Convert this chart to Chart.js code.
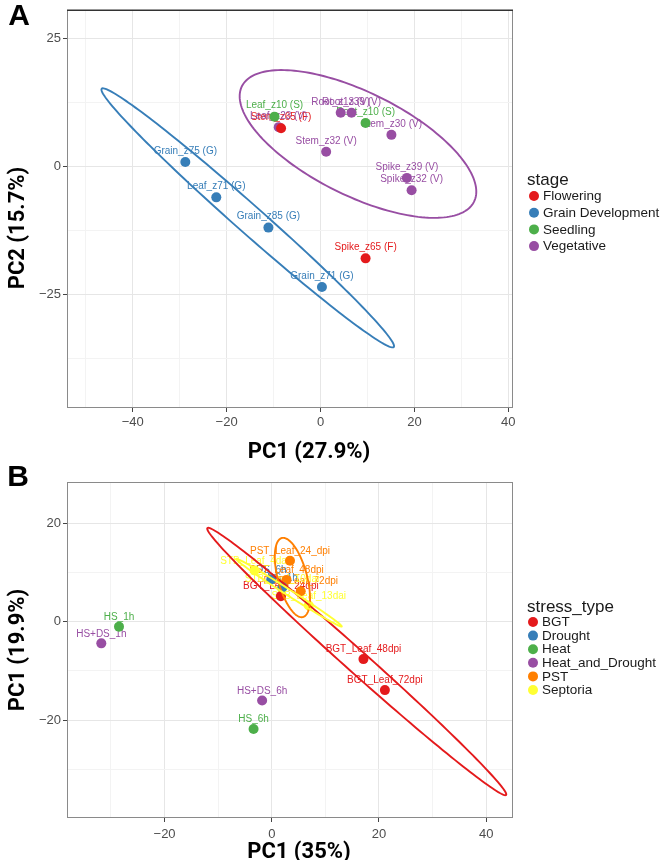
<!DOCTYPE html>
<html><head><meta charset="utf-8">
<script src="https://cdn.jsdelivr.net/npm/chart.js@4.4.1/dist/chart.umd.min.js"></script>
<style>
html,body{margin:0;padding:0;background:#fff;width:663px;height:860px;overflow:hidden;position:relative}
canvas{position:absolute;left:0}
#cA{top:0}
#cB{top:460px}
</style></head><body>
<canvas id="cA" width="663" height="470"></canvas>
<canvas id="cB" width="663" height="400"></canvas>
<script>
// ---------- Panel A ----------
const stagesA = ['Flowering','Grain Development','Seedling','Vegetative'];
const stageColorsA = ['#E41A1C','#377EB8','#4DAF4A','#984EA3'];
const samplesA = ['Grain_z75 (G)','Leaf_z71 (G)','Grain_z85 (G)','Grain_z71 (G)','Leaf_z10 (S)','Root_z10 (S)','Leaf_z23 (V)','Stem_z65 (F)','Spike_z65 (F)','Root_z13 (V)','Root_z39 (V)','Stem_z30 (V)','Stem_z32 (V)','Spike_z39 (V)','Spike_z32 (V)'];
const pc1A = [-28.8,-22.2,-11.1,0.3,-9.8,9.6,-8.9,-8.4,9.6,4.3,6.6,15.1,1.2,18.4,19.4];
const pc2A = [0.9,-6.0,-11.9,-23.5,9.75,8.5,7.7,7.5,-17.9,10.5,10.5,6.2,2.9,-2.2,-4.6];
const stageOfA = [1,1,1,1,2,2,3,0,0,3,3,3,3,3,3];
const xTicksA = [-50,-40,-30,-20,-10,0,10,20,30,40];
const xLabelsA = [-40,-20,0,20,40];
const yTicksA = [-37.5,-25,-12.5,0,12.5,25];
const yLabelsA = [-25,0,25];
// ellipses: [group, centerX, centerY, majorX, majorY, minorX, minorY]
const ellipsesA = [
  [1,-15.5,-10.0,31.1,-25.2,1.98,2.0],
  [3,7.98,4.42,24.7,-11.3,-5.0,-8.96]
];

// ---------- Panel B ----------
const stressTypes = ['BGT','Drought','Heat','Heat_and_Drought','PST','Septoria'];
const stressColors = ['#E41A1C','#377EB8','#4DAF4A','#984EA3','#FF7F00','#FFFF33'];
const samplesB = ['BGT_Leaf_24dpi','BGT_Leaf_48dpi','BGT_Leaf_72dpi','DS_1h','DS_6h','HS_1h','HS_6h','HS+DS_1h','HS+DS_6h','PST_Leaf_24_dpi','PST_Leaf_48dpi','PST_Leaf_72dpi','STB_Leaf_4dai','STB_Leaf_10dai','STB_Leaf_13dai'];
const pc1B = [1.7,17.1,21.1,2.0,-0.1,-28.5,-3.4,-31.8,-1.8,3.4,2.75,5.4,-3.2,1.9,6.9];
const pc2B = [5.2,-7.6,-13.9,7.0,8.6,-1.0,-21.8,-4.4,-16.0,12.4,8.5,6.2,10.4,6.8,3.3];
const stressOfB = [0,0,0,1,1,2,2,3,3,4,4,4,5,5,5];
const xTicksB = [-30,-20,-10,0,10,20,30,40];
const xLabelsB = [-20,0,20,40];
const yTicksB = [-30,-20,-10,0,10,20];
const yLabelsB = [-20,0,20];
const ellipsesB = [
  [0,15.85,-8.09,27.86,-27.13,1.39,1.67],
  [4,3.85,8.98,1.97,-8.03,-2.63,-0.75],
  [5,3.2,5.9,9.85,-6.87,0.3,0.51]
];

const FONT = "'Liberation Sans', Arial, sans-serif";
const fmt = v => v < 0 ? '\u2212' + Math.abs(v) : String(v);

function buildChart(id, cfg) {
  const datasets = cfg.groups.map((g, gi) => ({
    label: g,
    data: cfg.xs.map((x, i) => ({x: x, y: cfg.ys[i], lab: cfg.labels[i], g: cfg.groupOf[i]})).filter(d => d.g === gi),
    backgroundColor: cfg.colors[gi],
    borderColor: cfg.colors[gi],
    borderWidth: 0,
    pointRadius: 5,
    pointHoverRadius: 5
  }));
  const overlay = {
    id: 'overlay_' + id,
    beforeDatasetsDraw(chart) {
      const c = chart.ctx, a = chart.chartArea;
      c.save();
      c.beginPath(); c.rect(a.left, a.top, a.right - a.left, a.bottom - a.top); c.clip();
      c.font = '10px ' + FONT;
      c.textAlign = 'center'; c.textBaseline = 'middle';
      chart.data.datasets.forEach((ds, di) => {
        const meta = chart.getDatasetMeta(di);
        meta.data.forEach((el, j) => {
          c.fillStyle = cfg.colors[di];
          c.fillText(ds.data[j].lab, el.x, el.y - cfg.labelOff);
        });
      });
      c.restore();
    },
    afterDatasetsDraw(chart) {
      const c = chart.ctx, a = chart.chartArea;
      const xs = chart.scales.x, ys = chart.scales.y;
      c.save();
      c.beginPath(); c.rect(a.left, a.top, a.right - a.left, a.bottom - a.top); c.clip();
      cfg.ellipses.forEach(e => {
        c.beginPath();
        for (let k = 0; k <= 180; k++) {
          const t = k / 180 * Math.PI * 2;
          const dx = e[1] + Math.cos(t) * e[3] + Math.sin(t) * e[5];
          const dy = e[2] + Math.cos(t) * e[4] + Math.sin(t) * e[6];
          const px = xs.getPixelForValue(dx), py = ys.getPixelForValue(dy);
          if (k === 0) c.moveTo(px, py); else c.lineTo(px, py);
        }
        c.closePath();
        c.strokeStyle = cfg.colors[e[0]];
        c.lineWidth = 1.9;
        c.stroke();
      });
      c.restore();
    },
    afterDraw(chart) {
      const c = chart.ctx, a = chart.chartArea;
      c.save();
      c.strokeStyle = '#8a8a8a'; c.lineWidth = 1;
      c.strokeRect(Math.round(a.left) + 0.5, Math.round(a.top) + 0.5, Math.round(a.right - a.left) - 1, Math.round(a.bottom - a.top) - 1);
      if (cfg.topDark) {
        c.strokeStyle = '#333'; c.lineWidth = 1.5;
        c.beginPath(); c.moveTo(a.left, a.top + 0.5); c.lineTo(a.right, a.top + 0.5); c.stroke();
      }
      c.fillStyle = '#000';
      c.font = "bold 30px 'Liberation Sans', Arial, sans-serif";
      c.textAlign = 'center'; c.textBaseline = 'middle';
      c.fillText(cfg.letter[0], cfg.letter[1], cfg.letter[2]);
      c.font = "bold 22px Roboto, 'Liberation Sans', sans-serif";
      c.fillText(cfg.xTitle[0], cfg.xTitle[1], cfg.xTitle[2]);
      c.save();
      c.translate(cfg.yTitle[1], cfg.yTitle[2]);
      c.rotate(-Math.PI / 2);
      c.fillText(cfg.yTitle[0], 0, 0);
      c.restore();
      c.textAlign = 'left'; c.textBaseline = 'middle';
      c.fillStyle = '#1a1a1a';
      c.font = '17px ' + FONT;
      c.fillText(cfg.legTitle, cfg.leg.x, cfg.leg.titleY);
      c.font = '13.5px ' + FONT;
      cfg.groups.forEach((g, gi) => {
        const y = cfg.leg.y0 + gi * cfg.leg.dy;
        c.beginPath(); c.arc(cfg.leg.dotX, y, 5, 0, Math.PI * 2);
        c.fillStyle = cfg.colors[gi]; c.fill();
        c.fillStyle = '#1a1a1a';
        c.fillText(g, cfg.leg.textX, y + 0.5);
      });
      c.restore();
    }
  };
  const axis = (ticks, labels, min, max, isX) => ({
    type: 'linear', min: min, max: max,
    afterBuildTicks(s) { s.ticks = ticks.map(v => ({value: v})); },
    afterFit(s) { if (isX) s.height = cfg.xHeight; else s.width = 67; },
    ticks: {
      autoSkip: false, maxRotation: 0, color: '#4D4D4D',
      font: {family: FONT, size: 13},
      padding: isX ? cfg.xPad : 2,
      callback: v => labels.includes(v) ? fmt(v) : ''
    },
    grid: {
      color: ctx => labels.includes(ctx.tick.value) ? '#e6e6e6' : '#f3f3f3',
      tickColor: ctx => labels.includes(ctx.tick.value) ? '#444' : 'rgba(0,0,0,0)',
      tickLength: 4, lineWidth: 1, drawTicks: true
    },
    border: {display: false}
  });
  return new Chart(document.getElementById(id), {
    type: 'scatter',
    data: {datasets: datasets},
    options: {
      responsive: false, animation: false, devicePixelRatio: 1,
      layout: {padding: {left: 0, top: cfg.padTop, right: 150, bottom: 0}},
      plugins: {legend: {display: false}, tooltip: {enabled: false}},
      events: [],
      scales: {
        x: axis(cfg.xTicks, cfg.xLabels, cfg.xMin, cfg.xMax, true),
        y: axis(cfg.yTicks, cfg.yLabels, cfg.yMin, cfg.yMax, false)
      }
    },
    plugins: [overlay]
  });
}

buildChart('cA', {
  groups: stagesA, colors: stageColorsA, xs: pc1A, ys: pc2A, labels: samplesA, groupOf: stageOfA,
  xTicks: xTicksA, xLabels: xLabelsA, yTicks: yTicksA, yLabels: yLabelsA,
  xMin: -54, xMax: 41, yMin: -47.1, yMax: 30.6,
  padTop: 4, xHeight: 62, xPad: 3, labelOff: 11, topDark: true,
  ellipses: ellipsesA,
  letter: ['A', 19, 17], xTitle: ['PC1 (27.9%)', 309, 452], yTitle: ['PC2 (15.7%)', 18, 228],
  legTitle: 'stage', leg: {x: 527, titleY: 180, dotX: 534, textX: 543, y0: 196, dy: 16.7}
});
buildChart('cB', {
  groups: stressTypes, colors: stressColors, xs: pc1B, ys: pc2B, labels: samplesB, groupOf: stressOfB,
  xTicks: xTicksB, xLabels: xLabelsB, yTicks: yTicksB, yLabels: yLabelsB,
  xMin: -38.2, xMax: 45.0, yMin: -39.9, yMax: 28.4,
  padTop: 22, xHeight: 42, xPad: 5, labelOff: 9.5, topDark: false,
  ellipses: ellipsesB,
  letter: ['B', 18, 18], xTitle: ['PC1 (35%)', 299, 392], yTitle: ['PC1 (19.9%)', 18, 190],
  legTitle: 'stress_type', leg: {x: 527, titleY: 147, dotX: 533, textX: 542, y0: 162, dy: 13.6}
});
</script>
</body></html>
